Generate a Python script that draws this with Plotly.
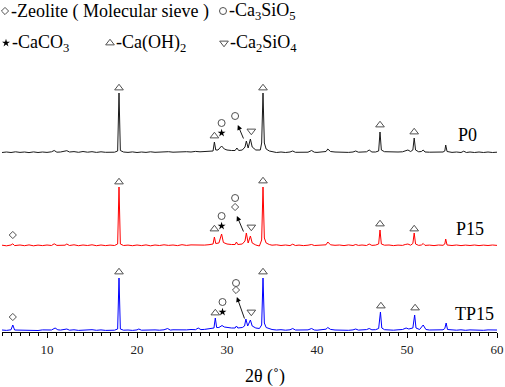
import plotly.graph_objects as go

# ---------------- data (2θ in degrees, intensity in arbitrary units) ----------------
p0_theta = [5.0, 5.5, 6.0, 6.5, 7.0, 7.5, 8.0, 8.5, 9.0, 9.5, 10.0, 10.5, 10.8, 11.1, 11.5, 12.0, 12.2, 12.5,
            13.0, 13.5, 14.0, 14.5, 15.0, 15.5, 16.0, 16.5, 17.0, 17.5, 17.85, 18.0, 18.15, 18.5, 19.0, 19.5,
            20.0, 20.5, 21.0, 21.5, 22.0, 22.5, 23.0, 23.5, 24.0, 24.5, 25.0, 25.5, 26.0, 26.5, 27.0, 27.5,
            28.0, 28.45, 28.6, 28.75, 29.0, 29.4, 29.7, 30.0, 30.5, 30.9, 31.1, 31.3, 31.7, 32.0, 32.15, 32.35,
            32.6, 32.8, 33.2, 33.7, 33.85, 34.0, 34.15, 34.35, 34.7, 35.0, 35.5, 36.0, 36.5, 37.0, 37.3, 37.6,
            38.0, 38.5, 39.0, 39.4, 39.7, 40.0, 40.5, 41.0, 41.2, 41.5, 42.0, 42.5, 43.0, 43.5, 44.0, 44.3,
            44.6, 45.0, 45.5, 45.8, 46.1, 46.5, 46.85, 47.0, 47.15, 47.5, 48.0, 48.5, 49.0, 49.5, 49.8, 50.1,
            50.4, 50.65, 50.8, 50.95, 51.3, 51.6, 51.8, 52.0, 52.5, 53.0, 53.5, 54.0, 54.2, 54.3, 54.45, 55.0,
            55.5, 56.0, 56.3, 56.6, 57.0, 57.5, 58.0, 58.5, 59.0, 59.5, 60.0]
p0_int = [0.5, 1.0, 0.5, 1.2, 0.6, 1.0, 0.4, 1.1, 0.5, 1.0, 0.6, 1.2, 2.5, 0.8, 1.0, 1.5, 2.3, 1.0,
          1.4, 0.7, 1.5, 0.8, 1.3, 0.6, 1.2, 0.7, 1.0, 0.8, 2.0, 60.0, 2.5, 1.0, 0.6, 1.1,
          0.5, 1.0, 0.6, 1.2, 0.7, 1.0, 0.6, 1.3, 0.8, 1.2, 0.9, 1.3, 1.0, 1.6, 1.2, 1.5,
          1.3, 2.0, 11.0, 3.0, 3.0, 7.0, 4.0, 3.0, 2.5, 2.5, 5.0, 2.5, 3.0, 6.0, 12.0, 5.0,
          14.0, 6.0, 3.0, 3.0, 10.0, 60.0, 10.0, 4.0, 2.0, 1.2, 0.5, 1.0, 0.5, 1.0, 2.0, 0.7,
          0.8, 0.5, 0.8, 2.5, 0.8, 0.6, 0.9, 1.5, 4.0, 1.5, 1.0, 0.7, 1.0, 0.6, 1.0, 2.0,
          0.8, 1.0, 1.2, 3.0, 1.0, 1.0, 2.0, 21.0, 3.0, 1.3, 1.0, 0.8, 1.0, 1.2, 2.5, 3.0,
          1.5, 3.0, 15.0, 3.0, 1.2, 1.5, 3.0, 1.0, 0.8, 1.0, 0.6, 1.0, 2.0, 8.0, 1.5, 0.6,
          1.0, 0.5, 1.8, 0.5, 1.0, 0.5, 1.0, 0.5, 1.0, 0.5, 0.8]

p15_theta = [5.0, 5.5, 6.0, 6.2, 6.4, 7.0, 7.5, 8.0, 8.5, 9.0, 9.5, 10.0, 10.5, 10.8, 11.1, 11.5, 12.0, 12.2,
             12.5, 13.0, 13.5, 14.0, 14.5, 15.0, 15.5, 16.0, 16.5, 17.0, 17.5, 17.85, 18.0, 18.15, 18.5, 19.0,
             19.5, 20.0, 20.5, 21.0, 21.5, 22.0, 22.5, 23.0, 23.5, 24.0, 24.5, 25.0, 25.5, 26.0, 26.5, 27.0,
             27.5, 28.0, 28.45, 28.6, 28.75, 29.1, 29.4, 29.6, 30.0, 30.5, 30.9, 31.05, 31.2, 31.7, 32.0, 32.15,
             32.35, 32.6, 32.8, 33.2, 33.6, 33.85, 34.0, 34.15, 34.35, 34.7, 35.0, 35.5, 36.0, 36.5, 37.0, 37.3,
             37.6, 38.0, 38.5, 39.0, 39.4, 39.7, 40.0, 40.5, 41.0, 41.2, 41.5, 42.0, 42.5, 43.0, 43.5, 44.0,
             44.3, 44.6, 45.0, 45.5, 45.8, 46.1, 46.5, 46.85, 47.0, 47.15, 47.5, 48.0, 48.5, 49.0, 49.5, 49.8,
             50.1, 50.4, 50.65, 50.8, 50.95, 51.3, 51.6, 51.8, 52.0, 52.5, 53.0, 53.5, 54.0, 54.2, 54.3, 54.45,
             55.0, 55.5, 56.0, 56.5, 57.0, 57.5, 58.0, 58.5, 59.0, 59.5, 60.0]
p15_int = [0.8, 0.2, 1.0, 2.2, 0.4, 1.0, 0.3, 1.1, 0.2, 0.9, 0.4, 1.0, 0.5, 2.2, 0.6, 1.0, 0.8, 2.0,
           0.5, 1.2, 0.3, 1.0, 0.5, 1.2, 0.3, 1.0, 0.4, 0.9, 0.5, 2.0, 59.0, 2.0, 0.5, 0.9,
           0.3, 1.0, 0.4, 1.1, 0.2, 1.0, 0.5, 1.2, 0.6, 1.0, 0.4, 1.3, 0.6, 1.1, 0.8, 1.2,
           0.9, 1.3, 2.0, 9.0, 2.5, 3.0, 12.0, 3.5, 2.0, 1.5, 1.5, 4.0, 1.5, 2.0, 5.0, 13.0,
           3.0, 10.0, 3.0, 1.0, 0.0, 6.0, 59.0, 8.0, 3.0, 1.5, 0.8, 1.2, 0.5, 1.0, 0.4, 1.8,
           0.5, 0.9, 0.4, 0.8, 1.5, 0.5, 0.7, 0.4, 1.2, 4.0, 1.2, 0.7, 1.0, 0.4, 1.1, 0.5,
           1.5, 0.6, 1.0, 0.5, 2.0, 0.6, 0.9, 2.0, 16.0, 2.0, 0.8, 1.0, 0.4, 0.9, 0.6, 1.5,
           2.0, 0.8, 2.5, 13.0, 2.0, 0.6, 1.0, 2.5, 0.6, 0.9, 0.4, 1.0, 0.7, 2.0, 7.0, 1.0,
           0.5, 1.0, 0.4, 0.9, 0.5, 1.0, 0.4, 0.9, 0.5, 1.0, 0.6]

tp15_theta = [5.0, 5.5, 6.0, 6.2, 6.4, 7.0, 7.5, 8.0, 8.5, 9.0, 9.5, 10.0, 10.5, 10.9, 11.2, 11.5, 12.0, 12.2,
              12.5, 13.0, 13.5, 14.0, 14.5, 15.0, 15.5, 16.0, 16.5, 17.0, 17.5, 17.85, 18.0, 18.15, 18.5, 19.0,
              19.5, 20.0, 20.2, 20.5, 21.0, 21.5, 22.0, 22.5, 23.0, 23.4, 23.7, 24.0, 24.5, 25.0, 25.5, 26.0,
              26.5, 26.8, 27.1, 27.5, 28.0, 28.55, 28.7, 28.85, 29.1, 29.45, 29.7, 30.0, 30.5, 30.9, 31.05, 31.2,
              31.7, 31.95, 32.1, 32.3, 32.6, 32.8, 33.2, 33.6, 33.85, 34.0, 34.15, 34.35, 34.7, 35.0, 35.5, 36.0,
              36.5, 37.0, 37.3, 37.6, 38.0, 38.5, 39.0, 39.4, 39.7, 40.0, 40.5, 41.0, 41.2, 41.5, 42.0, 42.5,
              43.0, 43.5, 44.0, 44.3, 44.6, 45.0, 45.5, 45.8, 46.1, 46.5, 46.85, 47.05, 47.2, 47.5, 48.0, 48.5,
              49.0, 49.5, 49.9, 50.2, 50.65, 50.85, 51.0, 51.4, 51.8, 52.1, 52.5, 53.0, 53.5, 54.0, 54.2, 54.35,
              54.5, 55.0, 55.5, 56.0, 56.5, 57.0, 57.5, 58.0, 58.5, 59.0, 59.5, 60.0]
tp15_int = [1.0, 0.6, 1.2, 6.0, 1.0, 0.8, 1.2, 0.6, 1.0, 0.5, 1.1, 0.7, 1.0, 3.0, 1.2, 0.9, 1.3, 2.0,
            0.8, 1.2, 0.6, 1.0, 0.8, 1.3, 0.7, 1.1, 0.6, 1.0, 0.8, 2.0, 53.0, 2.0, 0.8, 1.0,
            0.6, 1.1, 2.0, 0.8, 1.0, 0.6, 1.1, 0.8, 1.2, 2.5, 0.9, 1.2, 1.0, 1.4, 1.1, 1.5,
            1.3, 3.0, 1.4, 1.6, 2.0, 3.0, 13.0, 3.5, 3.5, 5.5, 4.0, 3.5, 3.0, 3.0, 5.0, 3.0,
            3.5, 5.0, 12.0, 5.0, 11.0, 5.0, 3.0, 2.5, 6.0, 53.0, 8.0, 3.5, 2.0, 1.5, 1.0, 1.3,
            0.8, 1.2, 2.5, 1.0, 1.0, 0.8, 1.1, 2.5, 1.0, 0.8, 1.2, 1.8, 3.5, 1.6, 1.0, 0.8,
            1.2, 0.7, 1.1, 2.0, 0.9, 1.2, 1.4, 2.5, 1.2, 1.3, 2.5, 19.0, 3.0, 1.3, 1.0, 0.8,
            1.2, 1.5, 3.0, 2.0, 3.0, 16.0, 3.0, 1.5, 6.0, 1.5, 1.0, 1.2, 0.8, 1.2, 2.5, 8.0,
            1.5, 1.0, 0.8, 1.2, 0.7, 1.1, 0.8, 1.2, 0.7, 1.1, 0.8, 1.0]

sample_names = ["P0", "P15", "TP15"]
sample_colors = ["#1a1a1a", "#ff0000", "#0000ff"]
sample_offsets = [179, 86, 1]          # vertical stacking offsets

# phase markers: (symbol key, 2θ, height above baseline)
p0_marks = [("tri", 18.0, 65), ("tri", 34.0, 65), ("tri", 28.6, 17), ("star", 29.4, 20),
            ("circ", 29.4, 30), ("circ", 30.9, 37), ("dtri", 32.7, 22), ("tri", 47.0, 28), ("tri", 50.8, 21)]
p15_marks = [("dia", 6.2, 11), ("tri", 18.0, 64), ("tri", 34.0, 65), ("tri", 28.6, 17), ("star", 29.4, 20),
             ("circ", 29.4, 30), ("circ", 30.9, 48), ("dia", 30.9, 39), ("dtri", 32.7, 19),
             ("tri", 47.0, 22), ("tri", 50.8, 17)]
tp15_marks = [("dia", 6.2, 14), ("tri", 18.0, 59), ("tri", 34.0, 59), ("tri", 28.7, 18), ("star", 29.5, 19),
              ("circ", 29.5, 29), ("circ", 31.0, 48), ("dia", 31.0, 41), ("dtri", 32.7, 19),
              ("tri", 47.1, 25), ("tri", 50.9, 23)]
# arrows: (head 2θ, head height, tail 2θ, tail height)
arrows = [(31.2, 28, 31.9, 13), (31.1, 30, 31.9, 13), (31.1, 34, 32.0, 11)]

legend_items = [("dia", "-Zeolite ( Molecular sieve )"), ("circ", "-Ca<sub>3</sub>SiO<sub>5</sub>"),
                ("star", "-CaCO<sub>3</sub>"), ("tri", "-Ca(OH)<sub>2</sub>"),
                ("dtri", "-Ca<sub>2</sub>SiO<sub>4</sub>")]

x_ticks = [10, 20, 30, 40, 50, 60]

# ---------------- styling ----------------
SERIF = "'Liberation Serif', 'Times New Roman', serif"
GREY = "#505050"
sym_style = {
    "tri": dict(symbol="triangle-up-open", size=7.5, color=GREY, line=dict(width=1, color=GREY)),
    "dtri": dict(symbol="triangle-down-open", size=7.5, color=GREY, line=dict(width=1, color=GREY)),
    "circ": dict(symbol="circle-open", size=7, color=GREY, line=dict(width=1, color=GREY)),
    "dia": dict(symbol="diamond-open", size=5.5, color=GREY, line=dict(width=1, color=GREY)),
    "star": dict(symbol="star", size=6, color="black", line=dict(width=0)),
}

W, H = 505, 387
ML, MR, MT, MB = 2, 8, 0, 55
X0, X1 = 5, 60
Y0, Y1 = 0, H - MT - MB
PW, PH = W - ML - MR, H - MT - MB


def px2x(px):
    return X0 + (px - ML) * (X1 - X0) / PW


def py2y(py):
    return Y1 - (py - MT)


def px2paper(px):
    return (px - ML) / PW


def py2paper(py):
    return (PH - (py - MT)) / PH


fig = go.Figure()

all_data = [(p0_theta, p0_int), (p15_theta, p15_int), (tp15_theta, tp15_int)]
for (th, it), name, col, off in zip(all_data, sample_names, sample_colors, sample_offsets):
    fig.add_trace(go.Scatter(x=th, y=[v + off for v in it], mode="lines",
                             line=dict(color=col, width=1), name=name, showlegend=False,
                             hoverinfo="skip"))

# phase markers
for marks, off in zip([p0_marks, p15_marks, tp15_marks], sample_offsets):
    for key in sym_style:
        xs = [m[1] for m in marks if m[0] == key]
        ys = [m[2] + off for m in marks if m[0] == key]
        if xs:
            fig.add_trace(go.Scatter(x=xs, y=ys, mode="markers", marker=sym_style[key],
                                     showlegend=False, hoverinfo="skip"))

# arrows
for (hx, hy, tx, ty), off in zip(arrows, sample_offsets):
    fig.add_annotation(x=hx, y=hy + off, ax=tx, ay=ty + off, xref="x", yref="y", axref="x", ayref="y",
                       showarrow=True, arrowhead=2, arrowsize=1.1, arrowwidth=0.9, arrowcolor="black",
                       text="")

# sample labels
label_px = [(467, 135), (470, 229), (474, 314)]
for name, (lx, ly) in zip(sample_names, label_px):
    fig.add_annotation(x=px2x(lx), y=py2y(ly), text=name, showarrow=False,
                       font=dict(family=SERIF, size=18, color="black"), xanchor="center", yanchor="middle")

# header legend (symbol markers + text)
legend_pos = [(5, 11), (223, 11), (6, 43), (110, 43), (224, 43)]
for (key, txt), (sx, sy) in zip(legend_items, legend_pos):
    fig.add_trace(go.Scatter(x=[px2x(sx)], y=[py2y(sy)], mode="markers", marker=sym_style[key],
                             showlegend=False, hoverinfo="skip", cliponaxis=False))
    fig.add_annotation(x=px2x(sx + 4), y=py2y(sy), text=txt, showarrow=False,
                       font=dict(family=SERIF, size=18, color="black"), xanchor="left", yanchor="middle")

# x-axis title
fig.add_annotation(x=px2paper(265), y=py2paper(377), text="2θ (˚)", showarrow=False,
                   xref="paper", yref="paper",
                   font=dict(family=SERIF, size=18, color="black"), xanchor="center", yanchor="middle")

fig.update_layout(
    width=W, height=H,
    margin=dict(l=ML, r=MR, t=MT, b=MB),
    paper_bgcolor="white", plot_bgcolor="white",
    font=dict(family=SERIF),
    xaxis=dict(range=[X0, X1], tickvals=x_ticks, ticktext=[str(t) for t in x_ticks],
               ticks="outside", ticklen=5, tickwidth=1, tickcolor="black",
               showline=True, linecolor="black", linewidth=1, showgrid=False, zeroline=False,
               tickfont=dict(family=SERIF, size=13, color="#222"),
               minor=dict(dtick=1, tick0=0, ticks="outside", ticklen=3, tickwidth=1, tickcolor="black",
                          showgrid=False)),
    yaxis=dict(range=[Y0, Y1], visible=False, showgrid=False, zeroline=False),
    showlegend=False,
)

fig.write_html("out.html", config={"displayModeBar": False},
               post_script="document.body.style.margin='0';document.body.style.padding='0';")
